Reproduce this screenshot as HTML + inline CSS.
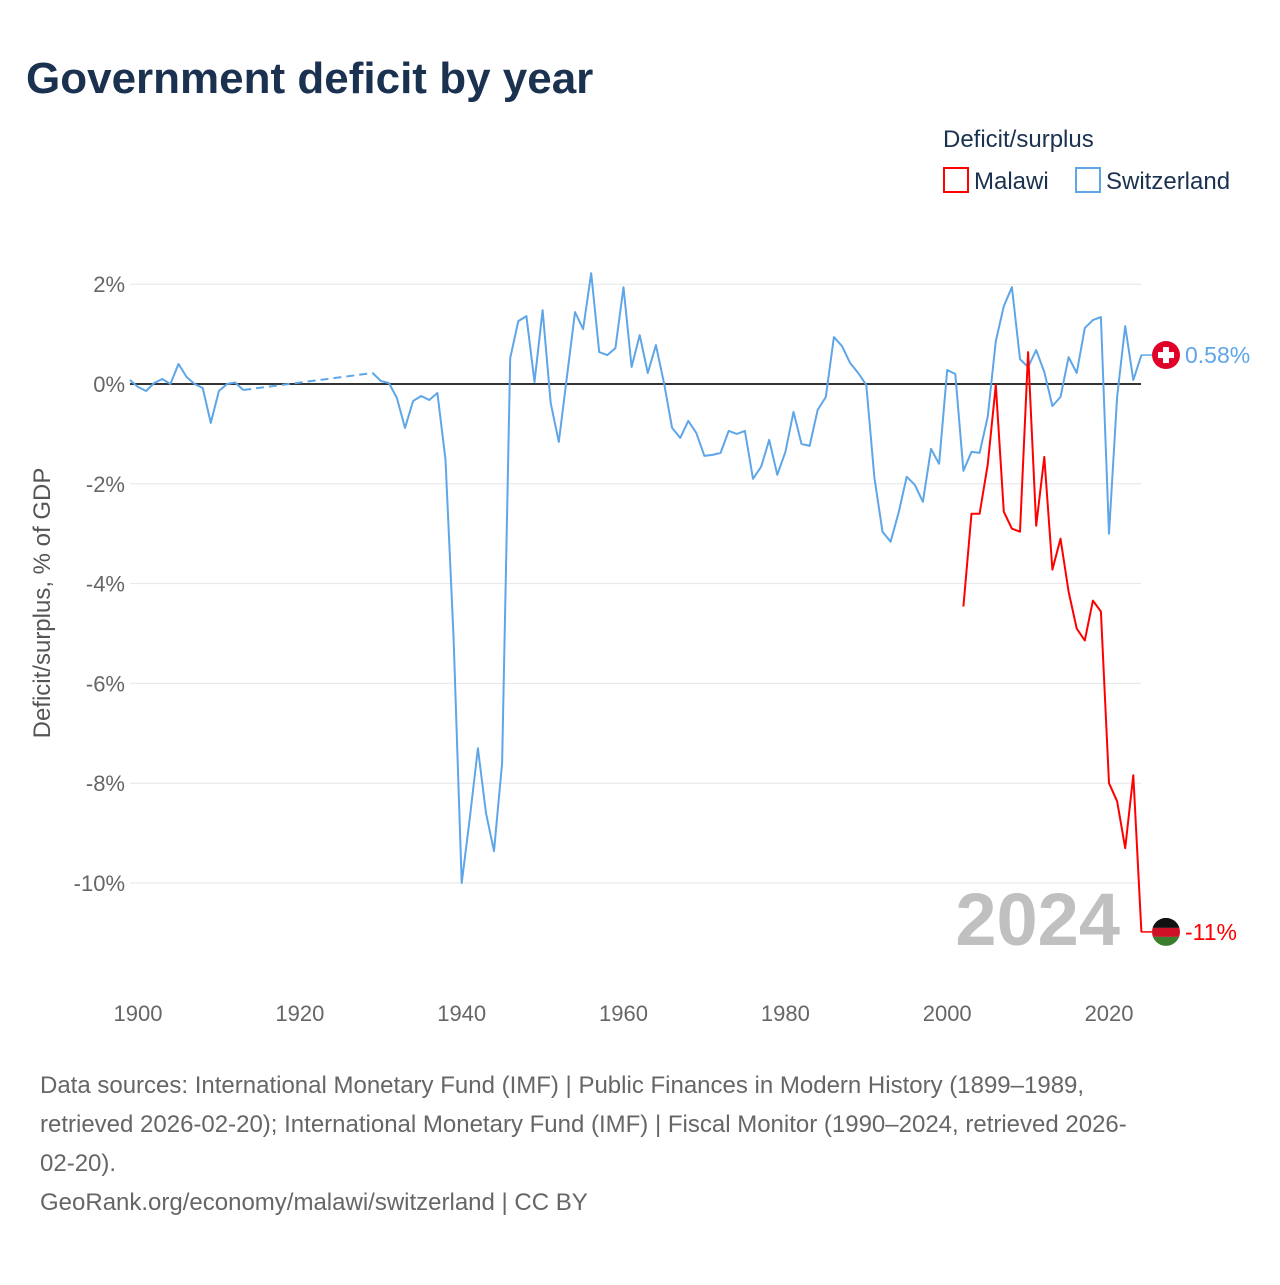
<!DOCTYPE html>
<html><head><meta charset="utf-8">
<style>
body{margin:0;background:#fff;font-family:"Liberation Sans",sans-serif;}
svg text{font-family:"Liberation Sans",sans-serif;}
</style></head>
<body>
<svg width="1280" height="1280" viewBox="0 0 1280 1280">
<text x="26" y="93" font-size="44" font-weight="bold" fill="#1a3150">Government deficit by year</text>
<text x="943" y="147" font-size="24" fill="#1a3150">Deficit/surplus</text>
<g><rect x="944" y="168" width="24" height="24" fill="none" stroke="#ff0000" stroke-width="2"/><text x="974" y="189" font-size="24" fill="#1a3150">Malawi</text></g>
<g><rect x="1076" y="168" width="24" height="24" fill="none" stroke="#5ea6e8" stroke-width="2"/><text x="1106" y="189" font-size="24" fill="#1a3150">Switzerland</text></g>
<g id="grid"></g>
<g id="series"></g>
<text x="1120" y="945" font-size="74" font-weight="bold" fill="#c0c0c0" text-anchor="end">2024</text>
<text transform="translate(50,603) rotate(-90)" font-size="24" fill="#555" text-anchor="middle">Deficit/surplus, % of GDP</text>
<g font-size="24" fill="#666">
<text x="40" y="1093">Data sources: International Monetary Fund (IMF) | Public Finances in Modern History (1899–1989,</text>
<text x="40" y="1132">retrieved 2026-02-20); International Monetary Fund (IMF) | Fiscal Monitor (1990–2024, retrieved 2026-</text>
<text x="40" y="1171">02-20).</text>
<text x="40" y="1210">GeoRank.org/economy/malawi/switzerland | CC BY</text>
</g>
</svg>
<script>
const yTicks=[2,0,-2,-4,-6,-8,-10];
const xTicks=[1900,1920,1940,1960,1980,2000,2020];
const swissYears=[1899,1900,1901,1902,1903,1904,1905,1906,1907,1908,1909,1910,1911,1912,1913,1929,1930,1931,1932,1933,1934,1935,1936,1937,1938,1939,1940,1941,1942,1943,1944,1945,1946,1947,1948,1949,1950,1951,1952,1953,1954,1955,1956,1957,1958,1959,1960,1961,1962,1963,1964,1965,1966,1967,1968,1969,1970,1971,1972,1973,1974,1975,1976,1977,1978,1979,1980,1981,1982,1983,1984,1985,1986,1987,1988,1989,1990,1991,1992,1993,1994,1995,1996,1997,1998,1999,2000,2001,2002,2003,2004,2005,2006,2007,2008,2009,2010,2011,2012,2013,2014,2015,2016,2017,2018,2019,2020,2021,2022,2023,2024];
const swissValues=[0.08,-0.06,-0.14,0.02,0.1,0.0,0.4,0.14,0.0,-0.08,-0.78,-0.14,0.0,0.03,-0.12,0.22,0.06,0.02,-0.28,-0.88,-0.34,-0.24,-0.32,-0.18,-1.52,-5.1,-10.0,-8.7,-7.3,-8.6,-9.36,-7.6,0.52,1.26,1.36,0.04,1.48,-0.38,-1.16,0.14,1.44,1.1,2.22,0.64,0.58,0.72,1.94,0.34,0.98,0.22,0.78,0.02,-0.88,-1.08,-0.74,-0.98,-1.44,-1.42,-1.38,-0.94,-1.0,-0.94,-1.9,-1.66,-1.12,-1.82,-1.36,-0.56,-1.2,-1.24,-0.52,-0.26,0.94,0.76,0.42,0.22,-0.02,-1.88,-2.96,-3.16,-2.58,-1.86,-2.02,-2.36,-1.3,-1.6,0.28,0.2,-1.74,-1.36,-1.38,-0.66,0.86,1.56,1.94,0.5,0.34,0.68,0.24,-0.44,-0.26,0.54,0.22,1.12,1.28,1.34,-3.0,-0.26,1.16,0.08,0.58];
const malawiYears=[2002,2003,2004,2005,2006,2007,2008,2009,2010,2011,2012,2013,2014,2015,2016,2017,2018,2019,2020,2021,2022,2023,2024];
const malawiValues=[-4.46,-2.6,-2.6,-1.62,-0.02,-2.56,-2.9,-2.96,0.64,-2.84,-1.46,-3.72,-3.1,-4.16,-4.9,-5.14,-4.34,-4.56,-8.0,-8.36,-9.3,-7.84,-10.98];
const NS='http://www.w3.org/2000/svg';
const X=y=>138+(y-1900)*8.092;
const Y=v=>384-v*49.9;
function mk(tag,attrs,parent){const e=document.createElementNS(NS,tag);for(const k in attrs)e.setAttribute(k,attrs[k]);parent.appendChild(e);return e;}
const grid=document.getElementById('grid'),ser=document.getElementById('series');
yTicks.forEach(t=>{
 const l=mk('line',{x1:130,x2:1141,y1:Y(t),y2:Y(t),stroke:t===0?'#333':'#e6e6e6','stroke-width':t===0?2:1},grid);
 
 
 const tx=mk('text',{x:125,y:Y(t)+8,'font-size':22,fill:'#666','text-anchor':'end'},grid);
 tx.textContent=t+'%';
 
 
});
xTicks.forEach(t=>{
 const tx=mk('text',{x:X(t),y:1021,'font-size':22,fill:'#666','text-anchor':'middle'},grid);
 tx.textContent=t;
 
 
});
function drawSeries(years,vals,color,name){
 let segs=[[]];
 for(let i=0;i<years.length;i++){
  if(i>0&&years[i]-years[i-1]>1){
   const d=mk('line',{x1:X(years[i-1]),y1:Y(vals[i-1]),x2:X(years[i]),y2:Y(vals[i]),stroke:color,'stroke-width':2,'stroke-dasharray':'8,5'},ser);
   
   
   segs.push([]);
  }
  segs[segs.length-1].push(X(years[i]).toFixed(1)+','+Y(vals[i]).toFixed(1));
 }
 segs.forEach(s=>{
  const p=mk('polyline',{points:s.join(' '),fill:'none',stroke:color,'stroke-width':2,'stroke-linejoin':'round'},ser);
  
  
 });
}
drawSeries(swissYears,swissValues,'#5ea6e8','switzerland');
drawSeries(malawiYears,malawiValues,'#ff0000','malawi');
// end labels
const sv=swissValues[swissValues.length-1], mv=malawiValues[malawiValues.length-1];
const sl=mk('line',{x1:1141,x2:1152,y1:Y(sv),y2:Y(sv),stroke:'#5ea6e8','stroke-width':1.5},ser);


const sf=mk('g',{},ser);


mk('circle',{cx:1166,cy:Y(sv),r:14,fill:'#e0002a'},sf);
mk('rect',{x:1163,y:Y(sv)-8,width:6,height:16,fill:'#fff'},sf);
mk('rect',{x:1158,y:Y(sv)-3,width:16,height:6,fill:'#fff'},sf);
const st=mk('text',{x:1185,y:Y(sv)+8,'font-size':23,fill:'#5ea6e8'},ser);
st.textContent=sv.toFixed(2)+'%';


const ml=mk('line',{x1:1141,x2:1152,y1:Y(mv),y2:Y(mv),stroke:'#ff0000','stroke-width':1.5},ser);


const mf=mk('g',{},ser);


const cy=Y(mv);
mk('clipPath',{id:'mc'},mf).appendChild(document.createElementNS(NS,'circle')).setAttribute('r',14);
mf.querySelector('clipPath circle').setAttribute('cx',1166);
mf.querySelector('clipPath circle').setAttribute('cy',cy);
const cg=mk('g',{'clip-path':'url(#mc)'},mf);
mk('rect',{x:1152,y:cy-14,width:28,height:10,fill:'#111'},cg);
mk('rect',{x:1152,y:cy-4,width:28,height:9,fill:'#ce1126'},cg);
mk('rect',{x:1152,y:cy+5,width:28,height:10,fill:'#3a7d2c'},cg);
const mt=mk('text',{x:1185,y:cy+8,'font-size':23,fill:'#ff0000'},ser);
mt.textContent=Math.round(mv)+'%';


</script>
</body></html>
